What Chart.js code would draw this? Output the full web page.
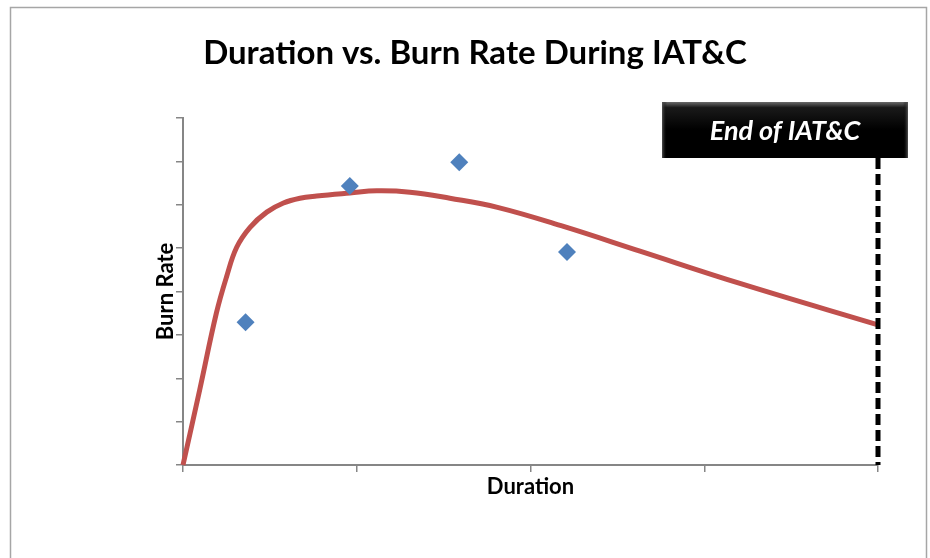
<!DOCTYPE html>
<html>
<head>
<meta charset="utf-8">
<script src="https://cdn.jsdelivr.net/npm/chart.js@4.4.0/dist/chart.umd.min.js"></script>
<style>
  html, body { margin: 0; padding: 0; background: #fff; }
  canvas { display: block; }
</style>
</head>
<body>
<canvas id="chart" width="930" height="558"></canvas>
<script>
// Chart text
const titleText = 'Duration vs. Burn Rate During IAT&C';
const xAxisTitle = 'Duration';
const yAxisTitle = 'Burn Rate';
const markerLabel = 'End of IAT&C';

// Axis ranges (no tick labels shown, only tick marks)
const durationTicks = [0, 1, 2, 3, 4];
const burnRateTicks = [0, 1, 2, 3, 4, 5, 6, 7, 8];
const endDuration = 4;

// Observed points (blue diamonds)
const observedDuration = [0.36, 0.96, 1.59, 2.21];
const observedBurnRate = [3.29, 6.43, 6.98, 4.91];

// Trend curve (red line)
const trendDuration = [0, 0.096, 0.192, 0.25, 0.309, 0.386, 0.482, 0.578, 0.673, 0.769, 0.961, 1.115, 1.306, 1.536, 1.81, 2.19, 2.63, 3.21, 4.0];
const trendBurnRate = [0, 1.73, 3.5, 4.33, 5.02, 5.48, 5.83, 6.04, 6.15, 6.2, 6.27, 6.32, 6.29, 6.15, 5.94, 5.5, 4.93, 4.18, 3.23];

const axisColor = '#868686';

// Frame, title, axis titles, end marker
const decorations = {
    id: 'decorations',
    beforeDraw(chart) {
        const ctx = chart.ctx;
        ctx.save();
        ctx.fillStyle = '#fff';
        ctx.fillRect(0, 0, chart.width, chart.height);
        ctx.strokeStyle = '#a6a6a6';
        ctx.lineWidth = 1.5;
        ctx.strokeRect(10.5, 7.5, 916, 620);
        ctx.restore();
    },
    afterDatasetsDraw(chart) {
        const ctx = chart.ctx;
        const area = chart.chartArea;
        const xs = chart.scales.x;
        const lineX = xs.getPixelForValue(endDuration);

        // box
        const boxL = lineX - 216, boxR = lineX + 30, boxT = 102, boxB = 158;
        ctx.save();
        const grad = ctx.createLinearGradient(0, boxT, 0, boxB);
        grad.addColorStop(0, '#6a6a6a');
        grad.addColorStop(0.1, '#1a1a1a');
        grad.addColorStop(0.5, '#000');
        grad.addColorStop(1, '#000');
        ctx.fillStyle = grad;
        ctx.fillRect(boxL, boxT, boxR - boxL, boxB - boxT);
        const side = ctx.createLinearGradient(boxL, 0, boxR, 0);
        side.addColorStop(0, 'rgba(90,90,90,0.9)');
        side.addColorStop(0.02, 'rgba(0,0,0,0)');
        side.addColorStop(0.98, 'rgba(0,0,0,0)');
        side.addColorStop(1, 'rgba(90,90,90,0.9)');
        ctx.fillStyle = side;
        ctx.fillRect(boxL, boxT, boxR - boxL, boxB - boxT);

        ctx.fillStyle = '#fff';
        ctx.font = 'italic bold 27px Lato';
        ctx.textAlign = 'center';
        ctx.textBaseline = 'middle';
        ctx.fillText(markerLabel, (boxL + boxR) / 2, (boxT + boxB) / 2 + 1);

        // dashed end line
        ctx.strokeStyle = '#000';
        ctx.lineWidth = 5;
        ctx.setLineDash([11, 5]);
        ctx.beginPath();
        ctx.moveTo(lineX, boxB);
        ctx.lineTo(lineX, area.bottom);
        ctx.stroke();
        ctx.restore();
    },
    afterDraw(chart) {
        const ctx = chart.ctx;
        const area = chart.chartArea;
        ctx.save();
        ctx.fillStyle = '#000';
        ctx.textAlign = 'center';
        ctx.textBaseline = 'middle';

        ctx.font = 'bold 33px Lato';
        ctx.fillText(titleText, 475, 53);

        ctx.font = 'bold 22px Lato';
        ctx.fillText(xAxisTitle, (area.left + area.right) / 2, 487);

        ctx.translate(166, (area.top + area.bottom) / 2);
        ctx.rotate(-Math.PI / 2);
        ctx.fillText(yAxisTitle, 0, 0);
        ctx.restore();
    }
};

const ctx = document.getElementById('chart').getContext('2d');
new Chart(ctx, {
    type: 'scatter',
    data: {
        datasets: [
            {
                label: 'Trend',
                type: 'line',
                data: trendDuration.map((d, i) => ({ x: d, y: trendBurnRate[i] })),
                borderColor: '#C0504D',
                borderWidth: 5,
                pointRadius: 0,
                tension: 0.4,
                fill: false,
                clip: false,
                order: 2,
            },
            {
                label: 'Observed',
                data: observedDuration.map((d, i) => ({ x: d, y: observedBurnRate[i] })),
                pointStyle: 'rectRot',
                pointRadius: 9,
                backgroundColor: '#4F81BD',
                borderColor: '#4F81BD',
                borderWidth: 0,
                order: 1,
            },
        ],
    },
    options: {
        responsive: false,
        animation: false,
        layout: {
            padding: { left: 0, top: 118, right: 52, bottom: 73 },
        },
        plugins: {
            legend: { display: false },
            tooltip: { enabled: false },
            title: { display: false },
        },
        scales: {
            x: {
                type: 'linear',
                min: durationTicks[0],
                max: durationTicks[durationTicks.length - 1],
                afterBuildTicks: s => { s.ticks = durationTicks.map(v => ({ value: v })); },
                afterFit: s => { s.height = 20; },
                ticks: { display: false },
                grid: { drawOnChartArea: false, drawTicks: true, tickLength: 7, color: axisColor, lineWidth: 1.5 },
                border: { color: axisColor, width: 2 },
            },
            y: {
                type: 'linear',
                min: burnRateTicks[0],
                max: burnRateTicks[burnRateTicks.length - 1],
                afterBuildTicks: s => { s.ticks = burnRateTicks.map(v => ({ value: v })); },
                afterFit: s => { s.width = 183; },
                ticks: { display: false },
                grid: { drawOnChartArea: false, drawTicks: true, tickLength: 7, color: axisColor, lineWidth: 1.5 },
                border: { color: axisColor, width: 2 },
            },
        },
    },
    plugins: [decorations],
});
</script>
</body>
</html>
